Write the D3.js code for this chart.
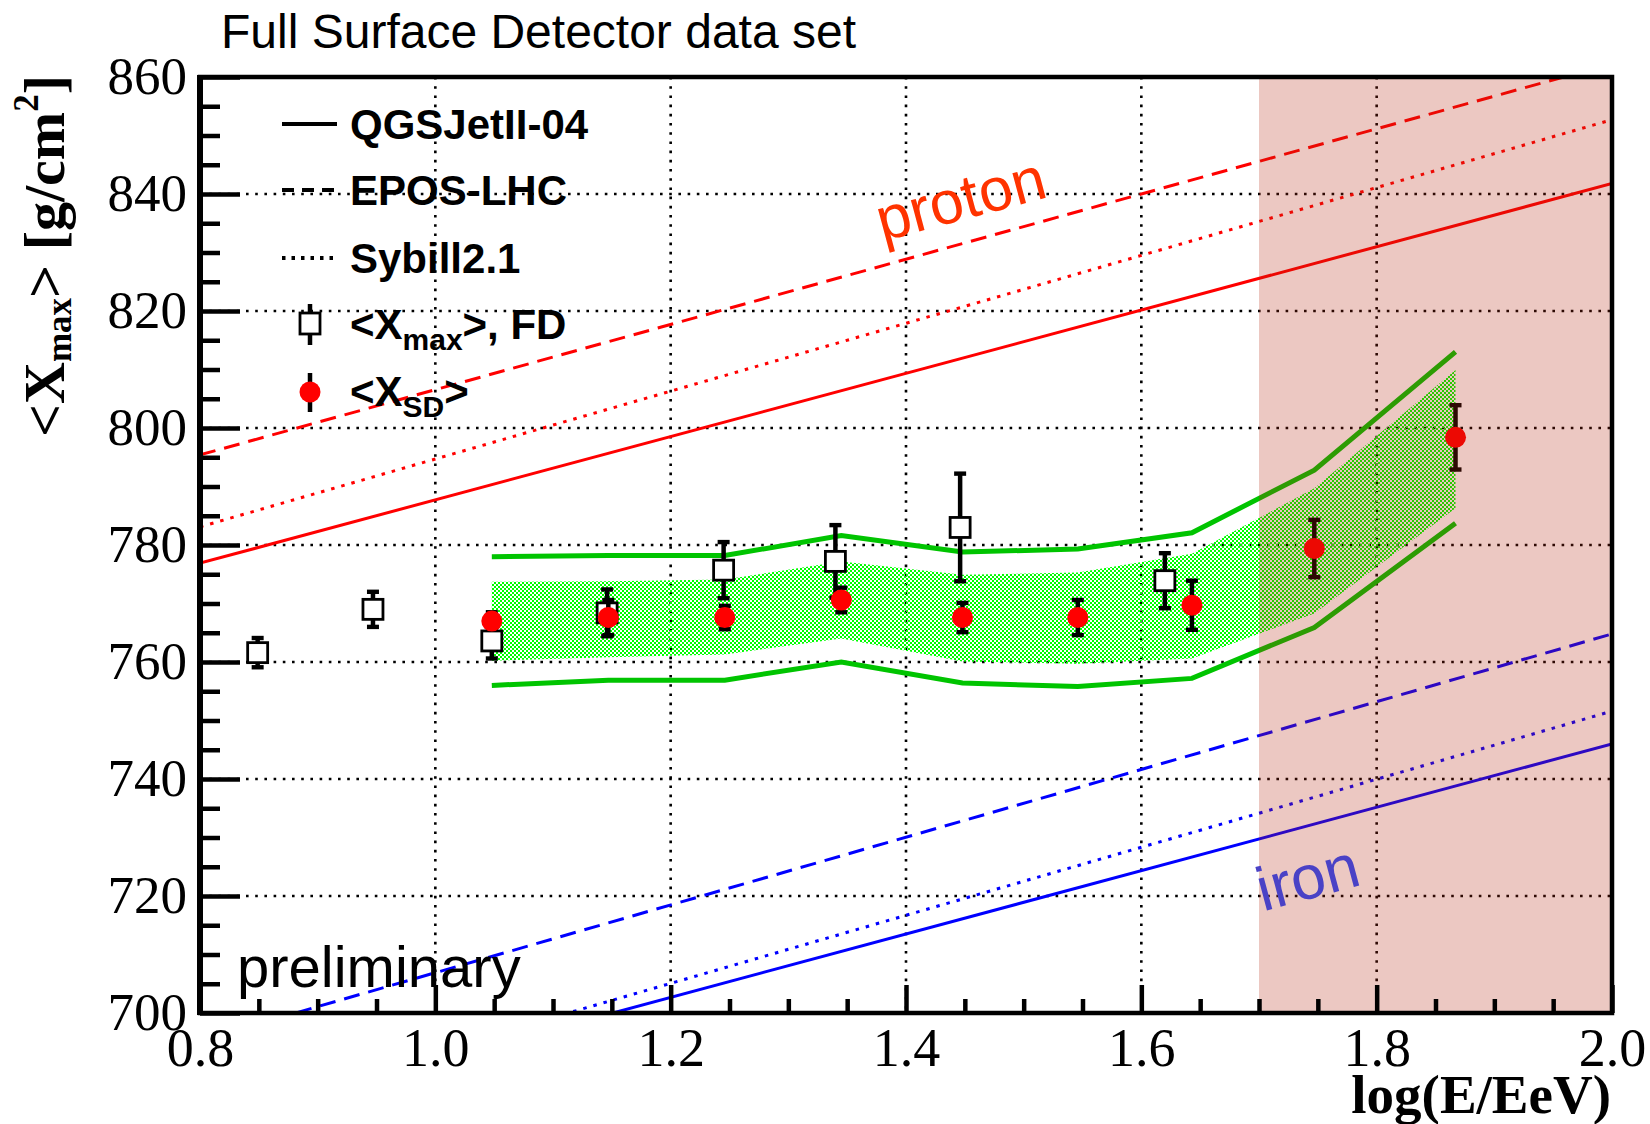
<!DOCTYPE html>
<html>
<head>
<meta charset="utf-8">
<script src="https://cdn.jsdelivr.net/npm/d3@7"></script>
<style>
  html, body { margin: 0; padding: 0; background: #fff; }
  svg { display: block; }
</style>
</head>
<body>
<svg id="chart" width="1650" height="1124"></svg>
<script>
// ---------- data ----------
const xDomain = [0.8, 2.0];
const yDomain = [700, 860];
const xMajorTicks = [0.8, 1.0, 1.2, 1.4, 1.6, 1.8, 2.0];
const yMajorTicks = [700, 720, 740, 760, 780, 800, 820, 840, 860];
const xGrid = [1.0, 1.2, 1.4, 1.6, 1.8];
const yGrid = [720, 740, 760, 780, 800, 820, 840];

// model predictions (straight lines, endpoints at 0.8 and 2.0)
const modelX = [0.8, 2.0];
const protonQGS = [776.9, 841.8];
const protonEPOS = [795.4, 862.3];
const protonSIB = [783.1, 852.7];
const ironQGS = [681.0, 746.0];
const ironEPOS = [695.3, 764.8];
const ironSIB = [681.8, 751.6];

// FD <Xmax>
const fdX = [0.849, 0.947, 1.048, 1.146, 1.245, 1.340, 1.446, 1.620];
const fdY = [761.6, 769.0, 763.6, 768.4, 775.7, 777.2, 783.0, 773.9];
const fdErr = [2.5, 3.0, 3.0, 4.0, 4.8, 6.2, 9.2, 4.7];

// SD <X_SD>
const sdX = [1.048, 1.147, 1.246, 1.345, 1.448, 1.546, 1.643, 1.747, 1.867];
const sdY = [767.0, 767.6, 767.6, 770.6, 767.6, 767.6, 769.7, 779.4, 798.4];
const sdErr = [1.5, 3.0, 2.0, 2.1, 2.5, 3.0, 4.2, 4.9, 5.5];

// hatched band (SD systematic) and outer green lines
const bandUp = [773.7, 773.8, 774.1, 777.2, 774.9, 775.3, 778.5, 789.7, 809.9];
const bandLo = [760.2, 760.8, 761.3, 764.0, 760.1, 759.7, 760.6, 768.3, 786.3];
const outerUp = [778.0, 778.2, 778.2, 781.6, 778.8, 779.3, 782.1, 792.8, 813.0];
const outerLo = [756.0, 756.9, 756.9, 760.0, 756.4, 755.8, 757.2, 765.9, 783.7];

const shadeRange = [1.7, 2.0];

const legendLabels = ["QGSJetII-04", "EPOS-LHC", "Sybill2.1"];

// ---------- layout ----------
const L = 200, R = 1612, T = 77, B = 1013;
const svg = d3.select("#chart");
const x = d3.scaleLinear().domain(xDomain).range([L, R]);
const y = d3.scaleLinear().domain(yDomain).range([B, T]);

const serif = "'Liberation Serif', 'Times New Roman', serif";
const sans = "'Liberation Sans', Arial, Helvetica, sans-serif";

const defs = svg.append("defs");
defs.append("clipPath").attr("id", "plotclip")
  .append("rect").attr("x", L).attr("y", T).attr("width", R - L).attr("height", B - T);
const pat = defs.append("pattern").attr("id", "hatch")
  .attr("width", 4).attr("height", 4).attr("patternUnits", "userSpaceOnUse");
pat.append("rect").attr("x", 0).attr("y", 0).attr("width", 2).attr("height", 2).attr("fill", "#00ff00");
pat.append("rect").attr("x", 2).attr("y", 2).attr("width", 2).attr("height", 2).attr("fill", "#00ff00");

// ---------- grid ----------
const grid = svg.append("g");
grid.selectAll("line.gx").data(xGrid).enter().append("line")
  .attr("x1", d => x(d)).attr("x2", d => x(d)).attr("y1", T).attr("y2", B)
  .attr("stroke", "#000").attr("stroke-width", 2.6).attr("stroke-dasharray", "2.6,6.6");
grid.selectAll("line.gy").data(yGrid).enter().append("line")
  .attr("x1", L).attr("x2", R).attr("y1", d => y(d)).attr("y2", d => y(d))
  .attr("stroke", "#000").attr("stroke-width", 2.6).attr("stroke-dasharray", "2.6,6.6");

// ---------- model lines ----------
const plot = svg.append("g").attr("clip-path", "url(#plotclip)");
const lineGen = d3.line().x(d => x(d[0])).y(d => y(d[1]));
const models = [
  {v: protonQGS, c: "#ff0000", dash: null},
  {v: protonEPOS, c: "#ff0000", dash: "16,9"},
  {v: protonSIB, c: "#ff0000", dash: "3.5,7"},
  {v: ironQGS, c: "#0000ff", dash: null},
  {v: ironEPOS, c: "#0000ff", dash: "16,9"},
  {v: ironSIB, c: "#0000ff", dash: "3.5,7"}
];
models.forEach(m => {
  plot.append("path").datum(modelX.map((xx, i) => [xx, m.v[i]]))
    .attr("d", lineGen).attr("fill", "none").attr("stroke", m.c)
    .attr("stroke-width", 3).attr("stroke-dasharray", m.dash);
});

// ---------- band ----------
const area = d3.area().x(d => x(d[0])).y0(d => y(d[1])).y1(d => y(d[2]));
plot.append("path").datum(sdX.map((xx, i) => [xx, bandLo[i], bandUp[i]]))
  .attr("d", area).attr("fill", "url(#hatch)");
[outerUp, outerLo].forEach(arr => {
  plot.append("path").datum(sdX.map((xx, i) => [xx, arr[i]]))
    .attr("d", lineGen).attr("fill", "none").attr("stroke", "#00c400").attr("stroke-width", 5);
});

// ---------- error bar helper ----------
function errBars(g, xs, ys, es) {
  xs.forEach((xx, i) => {
    const cx = x(xx), y1 = y(ys[i] + es[i]), y2 = y(ys[i] - es[i]);
    g.append("line").attr("x1", cx).attr("x2", cx).attr("y1", y1).attr("y2", y2)
      .attr("stroke", "#000").attr("stroke-width", 4.5);
    [y1, y2].forEach(yy => {
      g.append("rect").attr("x", cx - 6).attr("y", yy - 2.2).attr("width", 12).attr("height", 4.4).attr("fill", "#000");
    });
  });
}

// FD points
const fdG = plot.append("g");
errBars(fdG, fdX, fdY, fdErr);
fdG.selectAll("rect.sq").data(fdX).enter().append("rect")
  .attr("x", d => x(d) - 10).attr("y", (d, i) => y(fdY[i]) - 10)
  .attr("width", 20).attr("height", 20)
  .attr("fill", "#fff").attr("stroke", "#000").attr("stroke-width", 2.8);

// SD points
const sdG = plot.append("g");
errBars(sdG, sdX, sdY, sdErr);
sdG.selectAll("circle").data(sdX).enter().append("circle")
  .attr("cx", d => x(d)).attr("cy", (d, i) => y(sdY[i])).attr("r", 10.5)
  .attr("fill", "#ff0000");

// ---------- shaded region ----------
svg.append("rect")
  .attr("x", x(shadeRange[0])).attr("y", T + 2)
  .attr("width", x(shadeRange[1]) - x(shadeRange[0]) - 2).attr("height", B - T - 2)
  .attr("fill", "rgb(178,34,10)").attr("fill-opacity", 0.25);

// ---------- axes ----------
const xAxisMinor = d3.axisBottom(x)
  .tickValues(d3.range(0.85, 2.0, 0.05).filter(v => Math.abs(v * 5 - Math.round(v * 5)) > 1e-6))
  .tickSizeInner(-14).tickSizeOuter(0).tickFormat("");
const xAxis = d3.axisBottom(x).tickValues(xMajorTicks).tickFormat(d3.format(".1f"))
  .tickSizeInner(-28).tickSizeOuter(0).tickPadding(15);
const yAxisMinor = d3.axisLeft(y)
  .tickValues(d3.range(705, 860, 5).filter(v => v % 20 !== 0))
  .tickSizeInner(-20).tickSizeOuter(0).tickFormat("");
const yAxis = d3.axisLeft(y).tickValues(yMajorTicks).tickFormat(d3.format("d"))
  .tickSizeInner(-40).tickSizeOuter(0).tickPadding(13);

function styleAxis(g, size) {
  g.select(".domain").remove();
  g.selectAll(".tick line").attr("stroke", "#000").attr("stroke-width", 4.5);
  g.selectAll(".tick text").attr("font-family", serif).attr("font-size", size).attr("fill", "#000");
}
svg.append("g").attr("transform", `translate(0,${B})`).call(xAxisMinor).call(styleAxis, 54);
svg.append("g").attr("transform", `translate(0,${B})`).call(xAxis).call(styleAxis, 54);
svg.append("g").attr("transform", `translate(${L},0)`).call(yAxisMinor).call(styleAxis, 53);
svg.append("g").attr("transform", `translate(${L},0)`).call(yAxis).call(styleAxis, 53);

// frame
svg.append("rect").attr("x", L).attr("y", T).attr("width", R - L).attr("height", B - T)
  .attr("fill", "none").attr("stroke", "#000").attr("stroke-width", 4.5);
svg.append("line").attr("x1", L).attr("x2", L).attr("y1", T - 2).attr("y2", B + 2)
  .attr("stroke", "#000").attr("stroke-width", 6);

// ---------- texts ----------
svg.append("text").attr("x", 221).attr("y", 48)
  .attr("font-family", sans).attr("font-size", 48).attr("fill", "#000")
  .text("Full Surface Detector data set");

svg.append("text").attr("x", 1611).attr("y", 1113).attr("text-anchor", "end")
  .attr("font-family", serif).attr("font-weight", "bold").attr("font-size", 55)
  .text("log(E/EeV)");

const yt = svg.append("text")
  .attr("transform", "translate(64,256) rotate(-90)")
  .attr("text-anchor", "middle")
  .attr("font-family", serif).attr("font-weight", "bold").attr("font-size", 58);
yt.append("tspan").text("<X");
yt.append("tspan").attr("font-size", 35).attr("dy", 7).text("max");
yt.append("tspan").attr("dy", -7).text("> [g/cm");
yt.append("tspan").attr("font-size", 35).attr("dy", -26).text("2");
yt.append("tspan").attr("dy", 26).text("]");

svg.append("text").attr("x", 237).attr("y", 987)
  .attr("font-family", sans).attr("font-size", 58).attr("fill", "#000")
  .text("preliminary");

svg.append("text").attr("transform", "translate(966,219) rotate(-15)")
  .attr("text-anchor", "middle").attr("font-family", sans).attr("font-size", 61)
  .attr("fill", "#ff3300").text("proton");
svg.append("text").attr("transform", "translate(1313,898) rotate(-15)")
  .attr("text-anchor", "middle").attr("font-family", sans).attr("font-size", 62)
  .attr("fill", "#4a42c6").text("iron");

// ---------- legend ----------
const leg = svg.append("g");
const legRows = [124, 190, 258];
const legDash = [null, "12,8", "3.5,6"];
legendLabels.forEach((lab, i) => {
  leg.append("line").attr("x1", 282).attr("x2", 337).attr("y1", legRows[i]).attr("y2", legRows[i])
    .attr("stroke", "#000").attr("stroke-width", 4).attr("stroke-dasharray", legDash[i]);
  leg.append("text").attr("x", 350).attr("y", legRows[i] + 15)
    .attr("font-family", sans).attr("font-weight", "bold").attr("font-size", 42).text(lab);
});
// FD marker
leg.append("line").attr("x1", 310).attr("x2", 310).attr("y1", 304).attr("y2", 345)
  .attr("stroke", "#000").attr("stroke-width", 4.5);
leg.append("rect").attr("x", 300).attr("y", 313).attr("width", 20).attr("height", 21)
  .attr("fill", "#fff").attr("stroke", "#000").attr("stroke-width", 2.8);
const t4 = leg.append("text").attr("x", 350).attr("y", 339)
  .attr("font-family", sans).attr("font-weight", "bold").attr("font-size", 42);
t4.append("tspan").text("<X");
t4.append("tspan").attr("font-size", 30).attr("dy", 11).text("max");
t4.append("tspan").attr("dy", -11).text(">, FD");
// SD marker
leg.append("line").attr("x1", 310).attr("x2", 310).attr("y1", 373).attr("y2", 412)
  .attr("stroke", "#000").attr("stroke-width", 4.5);
leg.append("circle").attr("cx", 310).attr("cy", 392).attr("r", 10.5).attr("fill", "#ff0000");
const t5 = leg.append("text").attr("x", 350).attr("y", 406)
  .attr("font-family", sans).attr("font-weight", "bold").attr("font-size", 42);
t5.append("tspan").text("<X");
t5.append("tspan").attr("font-size", 30).attr("dy", 11).text("SD");
t5.append("tspan").attr("dy", -11).text(">");
</script>
</body>
</html>
